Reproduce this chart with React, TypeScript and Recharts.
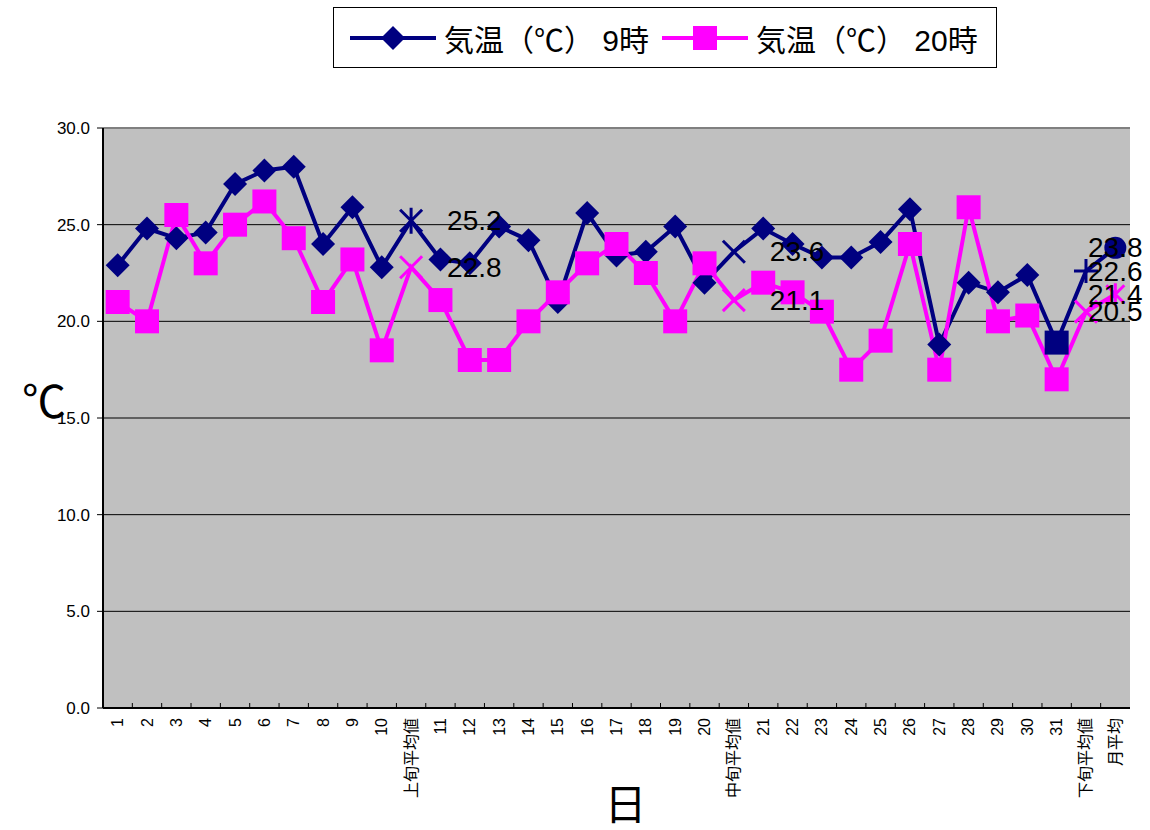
import React from "react";
import { CartesianGrid, LabelList, Line, LineChart, ReferenceLine, XAxis, YAxis } from "recharts";

// 日付＋旬平均・月平均のカテゴリ
const categories = [
  "1", "2", "3", "4", "5", "6", "7", "8", "9", "10", "上旬平均値",
  "11", "12", "13", "14", "15", "16", "17", "18", "19", "20", "中旬平均値",
  "21", "22", "23", "24", "25", "26", "27", "28", "29", "30", "31", "下旬平均値",
  "月平均",
];

// 気温(℃) 9時
const temp9 = [
  22.9, 24.8, 24.3, 24.6, 27.1, 27.8, 28.0, 24.0, 25.9, 22.8, 25.2,
  23.2, 23.0, 24.9, 24.2, 21.0, 25.6, 23.4, 23.6, 24.9, 22.0, 23.6,
  24.8, 24.0, 23.3, 23.3, 24.1, 25.8, 18.8, 22.0, 21.5, 22.4, 18.9, 22.6,
  23.8,
];

// 気温(℃) 20時
const temp20 = [
  21.0, 20.0, 25.5, 23.0, 25.0, 26.2, 24.3, 21.0, 23.2, 18.5, 22.8,
  21.1, 18.0, 18.0, 20.0, 21.5, 23.0, 24.0, 22.5, 20.0, 23.0, 21.1,
  22.0, 21.5, 20.5, 17.5, 19.0, 24.0, 17.5, 25.9, 20.0, 20.3, 17.0, 20.5,
  21.4,
];

const yTicks = [0, 5, 10, 15, 20, 25, 30];
const avgCategories = ["上旬平均値", "中旬平均値", "下旬平均値", "月平均"];
const seriesNames = ["気温（℃） 9時", "気温（℃） 20時"];

const NAVY = "#000080";
const MAGENTA = "#FF00FF";
const FONT = '"Liberation Sans", Arial, "Noto Sans CJK JP", sans-serif';
const JP_FONT = '"Liberation Sans", "Noto Sans CJK JP", sans-serif';

const W = 1150;
const H = 830;
const Y_AXIS_W = 103;
const RIGHT = 20;
const PLOT_W = W - Y_AXIS_W - RIGHT;
const BAND = PLOT_W / categories.length;

const data = categories.map((name, i) => ({ name, t9: temp9[i], t20: temp20[i] }));

const diamond = (cx: number, cy: number, r: number, color: string, key: string) => (
  <path key={key} d={`M${cx},${cy - r}L${cx + r},${cy}L${cx},${cy + r}L${cx - r},${cy}Z`} fill={color} />
);
const square = (cx: number, cy: number, r: number, color: string, key: string) => (
  <rect key={key} x={cx - r} y={cy - r} width={r * 2} height={r * 2} fill={color} />
);
const cross = (cx: number, cy: number, r: number, color: string, key: string) => (
  <path key={key} d={`M${cx - r},${cy - r}L${cx + r},${cy + r}M${cx - r},${cy + r}L${cx + r},${cy - r}`} stroke={color} strokeWidth={3} fill="none" />
);
const star = (cx: number, cy: number, r: number, color: string, key: string) => (
  <path key={key} d={`M${cx - r},${cy - r}L${cx + r},${cy + r}M${cx - r},${cy + r}L${cx + r},${cy - r}M${cx},${cy - r - 2}L${cx},${cy + r + 2}`} stroke={color} strokeWidth={3} fill="none" />
);
const plus = (cx: number, cy: number, r: number, color: string, key: string) => (
  <path key={key} d={`M${cx - r},${cy}L${cx + r},${cy}M${cx},${cy - r}L${cx},${cy + r}`} stroke={color} strokeWidth={3} fill="none" />
);

const renderDot9 = (props: any) => {
  const { cx, cy, index } = props;
  const name = categories[index];
  const key = `d9-${index}`;
  if (name === "上旬平均値") return star(cx, cy, 11, NAVY, key);
  if (name === "中旬平均値") return cross(cx, cy, 11, NAVY, key);
  if (name === "下旬平均値") return plus(cx, cy, 12, NAVY, key);
  if (name === "月平均") return <circle key={key} cx={cx} cy={cy} r={11} fill={NAVY} />;
  if (name === "31") return square(cx, cy, 12, NAVY, key);
  return diamond(cx, cy, 12, NAVY, key);
};

const renderDot20 = (props: any) => {
  const { cx, cy, index } = props;
  const name = categories[index];
  const key = `d20-${index}`;
  if (name === "月平均") return star(cx, cy, 9, MAGENTA, key);
  if (avgCategories.includes(name)) return cross(cx, cy, 11, MAGENTA, key);
  return square(cx, cy, 12, MAGENTA, key);
};

const renderAvgLabel = (props: any) => {
  const { x, y, value, index } = props;
  if (!avgCategories.includes(categories[index])) return null;
  const lx = Math.min(x + 36, W - 62);
  return (
    <text key={`lbl-${index}-${value}`} x={lx} y={y} dominantBaseline="central" fontSize={28} fill="#000" fontFamily={FONT}>
      {Number(value).toFixed(1)}
    </text>
  );
};

const XTick = (props: any) => {
  const { x, y, payload } = props;
  const ty = y + 10;
  return (
    <g>
      <line x1={x - BAND / 2} x2={x - BAND / 2} y1={y - 5} y2={y} stroke="#000" strokeWidth={1} />
      <text
        x={x}
        y={ty}
        transform={`rotate(-90 ${x} ${ty})`}
        textAnchor="end"
        dominantBaseline="central"
        fontSize={16}
        fill="#000"
        fontFamily={FONT}
      >
        {payload.value}
      </text>
    </g>
  );
};

function LegendItem({ color, shape, label }: { color: string; shape: "diamond" | "square"; label: string }) {
  return (
    <div style={{ display: "flex", alignItems: "center" }}>
      <svg width={86} height={30}>
        <line x1={0} x2={86} y1={15} y2={15} stroke={color} strokeWidth={4} />
        {shape === "diamond" ? diamond(43, 15, 12, color, "l") : square(43, 15, 12, color, "l")}
      </svg>
      <span style={{ marginLeft: 8, whiteSpace: "pre" }}>{label}</span>
    </div>
  );
}

export default function App() {
  return (
    <div style={{ position: "absolute", left: 0, top: 0, width: W, height: H, background: "#fff" }}>
      <LineChart width={W} height={H} data={data} margin={{ top: 128, right: RIGHT, bottom: 0, left: 0 }}>
        <CartesianGrid vertical={false} stroke="#000" fill="#C0C0C0" fillOpacity={1} />
        <XAxis
          dataKey="name"
          height={122}
          interval={0}
          padding={{ left: BAND / 2, right: BAND / 2 }}
          tick={<XTick />}
          tickLine={false}
          tickSize={0}
          tickMargin={0}
          axisLine={{ stroke: "#000", strokeWidth: 2 }}
          label={{ value: "日", position: "insideBottom", offset: 10, dx: 9, fontSize: 42, fill: "#000", fontFamily: JP_FONT }}
        />
        <YAxis
          domain={[0, 30]}
          ticks={yTicks}
          width={Y_AXIS_W}
          tickFormatter={(v: number) => v.toFixed(1)}
          tick={{ fontSize: 17, fill: "#000", fontFamily: FONT }}
          tickSize={6}
          tickMargin={7}
          tickLine={{ stroke: "#000" }}
          axisLine={{ stroke: "#000", strokeWidth: 2 }}
          label={{ value: "℃", position: "insideLeft", offset: 22, dy: -16, fontSize: 44, fill: "#000", fontFamily: JP_FONT }}
        />
        <YAxis
          yAxisId="right"
          orientation="right"
          domain={[0, 30]}
          width={0}
          tick={false}
          tickLine={false}
          axisLine={{ stroke: "#808080", strokeWidth: 3 }}
        />
        <ReferenceLine y={30} stroke="#808080" strokeWidth={2} />
        <Line
          dataKey="t9"
          name={seriesNames[0]}
          stroke={NAVY}
          strokeWidth={4}
          dot={renderDot9}
          activeDot={false}
          isAnimationActive={false}
        >
          <LabelList dataKey="t9" content={renderAvgLabel} />
        </Line>
        <Line
          dataKey="t20"
          name={seriesNames[1]}
          stroke={MAGENTA}
          strokeWidth={4}
          dot={renderDot20}
          activeDot={false}
          isAnimationActive={false}
        >
          <LabelList dataKey="t20" content={renderAvgLabel} />
        </Line>
      </LineChart>
      <div
        style={{
          position: "absolute",
          left: 333,
          top: 7,
          width: 664,
          height: 61,
          boxSizing: "border-box",
          border: "1px solid #000",
          background: "#fff",
          display: "flex",
          alignItems: "center",
          paddingLeft: 16,
          gap: 13,
          fontFamily: JP_FONT,
          fontSize: 30,
          color: "#000",
        }}
      >
        <LegendItem color={NAVY} shape="diamond" label={seriesNames[0]} />
        <LegendItem color={MAGENTA} shape="square" label={seriesNames[1]} />
      </div>
    </div>
  );
}
